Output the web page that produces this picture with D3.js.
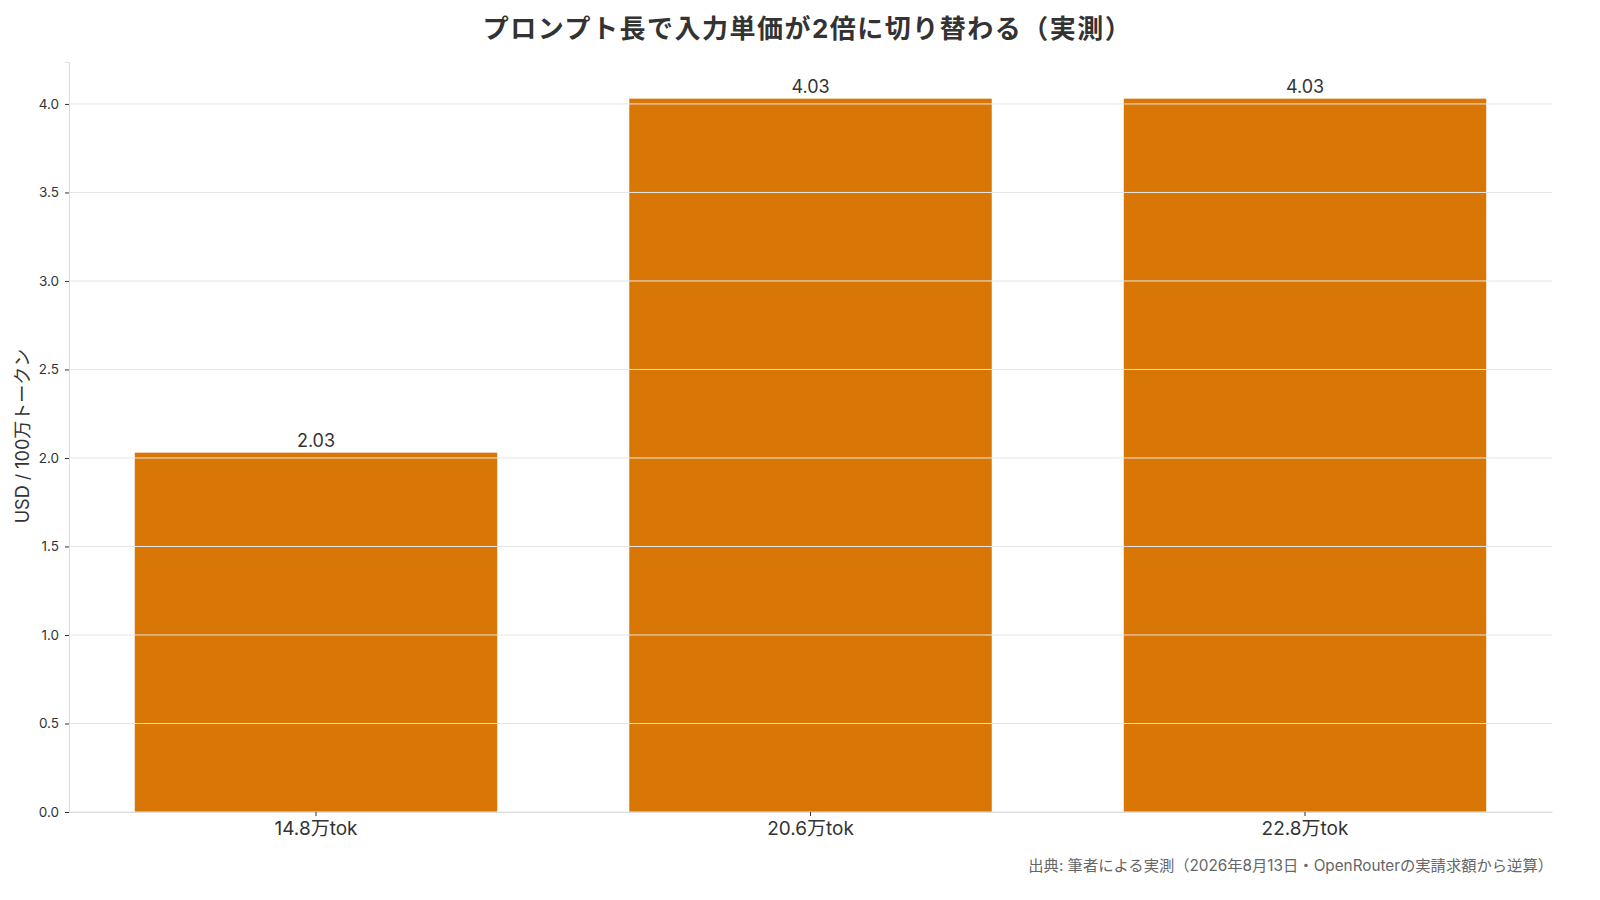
<!DOCTYPE html>
<html>
<head>
<meta charset="utf-8">
<script src="https://cdn.jsdelivr.net/npm/d3@7"></script>
<style>
  body { margin: 0; background: #fff; }
  svg text { font-family: Inter, "Noto Sans CJK JP", sans-serif; }
</style>
</head>
<body>
<div class="chart"></div>
<script>
// data
const categories = ["14.8万tok", "20.6万tok", "22.8万tok"];
const prices = [2.03, 4.03, 4.03];
const yTicks = [0, 0.5, 1.0, 1.5, 2.0, 2.5, 3.0, 3.5, 4.0];

const W = 1600, H = 900;
const margin = { top: 62, right: 48, bottom: 88, left: 69 };
const width = W - margin.left - margin.right;
const height = H - margin.top - margin.bottom;
const font = "Inter, 'Noto Sans CJK JP', sans-serif";

const svg = d3.select(".chart").append("svg")
    .attr("width", W)
    .attr("height", H);

const g = svg.append("g")
    .attr("transform", "translate(" + margin.left + "," + margin.top + ")");

// scales
const x = d3.scaleBand().domain(categories).range([0, width])
    .paddingInner(0.267).paddingOuter(0.133);
const y = d3.scaleLinear().domain([0, 4.237]).range([height, 0]);

// bars
g.selectAll("rect.bar")
  .data(prices)
  .enter().append("rect")
    .attr("class", "bar")
    .attr("x", (d, i) => x(categories[i]))
    .attr("width", x.bandwidth())
    .attr("y", d => y(d))
    .attr("height", d => height - y(d))
    .attr("fill", "#d97706");

// gridlines on top of the bars
g.selectAll("line.grid")
  .data(yTicks)
  .enter().append("line")
    .attr("class", "grid")
    .attr("x1", 0).attr("x2", width)
    .attr("y1", d => y(d)).attr("y2", d => y(d))
    .attr("stroke", "#e5e5e5")
    .attr("stroke-width", 1);

// value labels
g.selectAll("text.val")
  .data(prices)
  .enter().append("text")
    .attr("class", "val")
    .attr("x", (d, i) => x(categories[i]) + x.bandwidth() / 2)
    .attr("y", d => y(d) - 6)
    .attr("text-anchor", "middle")
    .style("font-size", "18px")
    .style("fill", "#333")
    .text(d => d.toFixed(2));

// y axis
const yAxis = g.append("g")
    .call(d3.axisLeft(y).tickValues(yTicks).tickFormat(d3.format(".1f")).tickSize(4).tickPadding(6));
yAxis.select(".domain").attr("stroke", "#dddddd");
yAxis.selectAll(".tick line").attr("stroke", "#333");
yAxis.selectAll(".tick text").style("font-size", "13.5px").style("fill", "#333")
    .style("font-family", font);

// x axis
const xAxis = g.append("g")
    .attr("transform", "translate(0," + height + ")")
    .call(d3.axisBottom(x).tickSize(4).tickPadding(6).tickSizeOuter(0));
xAxis.select(".domain").attr("stroke", "#dddddd");
xAxis.selectAll(".tick line").attr("stroke", "#333");
xAxis.selectAll(".tick text").style("font-size", "19px").style("fill", "#333")
    .style("font-family", font);

// y label
svg.append("text")
    .attr("transform", "translate(29," + (margin.top + height / 2 - 1) + ") rotate(-90)")
    .attr("text-anchor", "middle")
    .style("font-size", "18px")
    .style("fill", "#333")
    .text("USD / 100万トークン");

// title
svg.append("text")
    .attr("x", margin.left + width / 2 - 3)
    .attr("y", 38)
    .attr("text-anchor", "middle")
    .style("font-size", "26px")
    .style("font-weight", "bold")
    .style("letter-spacing", "1.5px")
    .style("fill", "#333")
    .text("プロンプト長で入力単価が2倍に切り替わる（実測）");

// source note
svg.append("text")
    .attr("x", 1553)
    .attr("y", 871)
    .attr("text-anchor", "end")
    .style("font-size", "15.3px")
    .style("fill", "#666")
    .text("出典: 筆者による実測（2026年8月13日・OpenRouterの実請求額から逆算）");
</script>
</body>
</html>
